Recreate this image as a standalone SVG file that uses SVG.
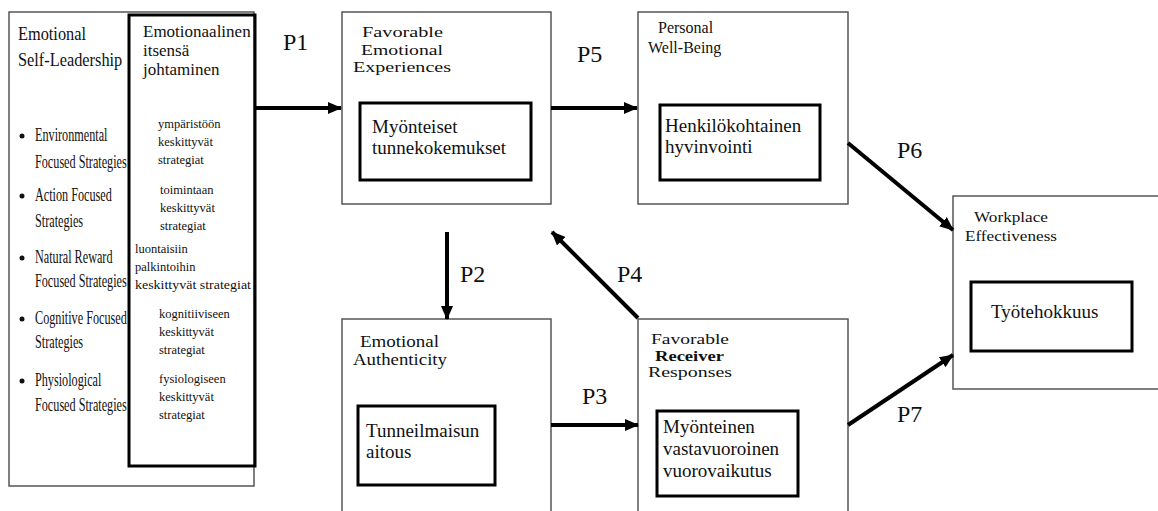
<svg xmlns="http://www.w3.org/2000/svg" width="1158" height="511" viewBox="0 0 1158 511">
<style>
.outer{fill:#fff;stroke:#555;stroke-width:1.5}
.inner{fill:#fff;stroke:#000;stroke-width:3}
.t{font-family:"Liberation Serif","Times New Roman",serif;fill:#111}
.big{font-size:19px}
.head{font-size:19px}
.bul{font-size:18px}
.sm{font-size:12.5px}
.cap{font-size:16px}
.sp{font-size:14.5px}
.p{font-size:24px}
.arr{stroke:#000;stroke-width:4;fill:none;marker-end:url(#ah)}
</style>
<defs>
<marker id="ah" markerUnits="userSpaceOnUse" markerWidth="14" markerHeight="12" refX="13" refY="6" orient="auto">
<path d="M0,0 L14,6 L0,12 z" fill="#000"/>
</marker>
</defs>
<rect width="1158" height="511" fill="#fff"/>

<g id="esl">
<rect class="outer" x="9" y="12" width="245" height="474"/>
<g transform="translate(18,0) scale(0.86,1)">
<text class="t head" x="0" y="40">Emotional</text>
<text class="t head" x="0" y="66">Self-Leadership</text>
</g>
<g fill="#111">
<circle cx="22" cy="136" r="2.5"/><circle cx="22" cy="196" r="2.5"/><circle cx="22" cy="258" r="2.5"/><circle cx="22" cy="319" r="2.5"/><circle cx="22" cy="381" r="2.5"/>
</g>
<g transform="translate(35,0) scale(0.678,1)">
<text class="t bul" x="0" y="141">Environmental</text>
<text class="t bul" x="0" y="168">Focused Strategies</text>
<text class="t bul" x="0" y="201">Action Focused</text>
<text class="t bul" x="0" y="227">Strategies</text>
<text class="t bul" x="0" y="263">Natural Reward</text>
<text class="t bul" x="0" y="287">Focused Strategies</text>
<text class="t bul" x="0" y="324">Cognitive Focused</text>
<text class="t bul" x="0" y="348">Strategies</text>
<text class="t bul" x="0" y="386">Physiological</text>
<text class="t bul" x="0" y="411">Focused Strategies</text>
</g>
</g>

<g id="esl-fi">
<rect class="inner" x="129" y="15" width="126" height="451" style="fill:none"/>
<text class="t" font-size="17" x="143" y="37">Emotionaalinen</text>
<text class="t" font-size="17" x="143" y="56">itsensä</text>
<text class="t" font-size="17" x="143" y="75">johtaminen</text>
<text class="t sm" x="158" y="128">ympäristöön</text>
<text class="t sm" x="158" y="146">keskittyvät</text>
<text class="t sm" x="158" y="164">strategiat</text>
<text class="t sm" x="160" y="194">toimintaan</text>
<text class="t sm" x="160" y="212">keskittyvät</text>
<text class="t sm" x="160" y="230">strategiat</text>
<text class="t sm" x="135" y="253">luontaisiin</text>
<text class="t sm" x="135" y="271">palkintoihin</text>
<text class="t sm" x="135" y="289" textLength="116" lengthAdjust="spacingAndGlyphs">keskittyvät strategiat</text>
<text class="t sm" x="159" y="318">kognitiiviseen</text>
<text class="t sm" x="159" y="336">keskittyvät</text>
<text class="t sm" x="159" y="354">strategiat</text>
<text class="t sm" x="159" y="383">fysiologiseen</text>
<text class="t sm" x="159" y="401">keskittyvät</text>
<text class="t sm" x="159" y="419">strategiat</text>
</g>

<g id="fee">
<rect class="outer" x="342" y="12" width="209" height="192"/>
<text class="t sp" x="362" y="37" textLength="81" lengthAdjust="spacingAndGlyphs">Favorable</text>
<text class="t sp" x="361" y="55" textLength="82" lengthAdjust="spacingAndGlyphs">Emotional</text>
<text class="t sp" x="353" y="72" textLength="98" lengthAdjust="spacingAndGlyphs">Experiences</text>
<rect class="inner" x="360" y="103" width="171" height="77"/>
<text class="t big" x="372" y="133">Myönteiset</text>
<text class="t big" x="372" y="154">tunnekokemukset</text>
</g>

<g id="pwb">
<rect class="outer" x="638" y="12" width="210" height="192"/>
<text class="t cap" x="658" y="33">Personal</text>
<text class="t cap" x="648" y="53">Well-Being</text>
<rect class="inner" x="660" y="105" width="160" height="75"/>
<text class="t big" x="665" y="132">Henkilökohtainen</text>
<text class="t big" x="665" y="153">hyvinvointi</text>
</g>

<g id="ea">
<rect class="outer" x="342" y="319" width="209" height="200"/>
<text class="t cap" x="360" y="347" textLength="79" lengthAdjust="spacingAndGlyphs">Emotional</text>
<text class="t cap" x="353" y="365" textLength="94" lengthAdjust="spacingAndGlyphs">Authenticity</text>
<rect class="inner" x="358" y="406" width="137" height="79"/>
<text class="t big" x="366" y="437">Tunneilmaisun</text>
<text class="t big" x="366" y="458">aitous</text>
</g>

<g id="frr">
<rect class="outer" x="638" y="319" width="210" height="200"/>
<text class="t sp" x="651" y="344" textLength="78" lengthAdjust="spacingAndGlyphs">Favorable</text>
<text class="t sp" x="655" y="361" textLength="69" lengthAdjust="spacingAndGlyphs" font-weight="bold">Receiver</text>
<text class="t sp" x="648" y="377" textLength="84" lengthAdjust="spacingAndGlyphs">Responses</text>
<rect class="inner" x="657" y="411" width="141" height="85"/>
<text class="t big" x="663" y="433">Myönteinen</text>
<text class="t big" x="663" y="455">vastavuoroinen</text>
<text class="t big" x="663" y="477">vuorovaikutus</text>
</g>

<g id="we">
<rect class="outer" x="953" y="196" width="215" height="193"/>
<text class="t sp" x="974" y="222" textLength="74" lengthAdjust="spacingAndGlyphs">Workplace</text>
<text class="t sp" x="965" y="241" textLength="92" lengthAdjust="spacingAndGlyphs">Effectiveness</text>
<rect class="inner" x="971" y="282" width="161" height="69"/>
<text class="t big" x="991" y="318">Työtehokkuus</text>
</g>

<g id="connectors">
<line class="arr" x1="255" y1="108" x2="341" y2="108"/>
<line class="arr" x1="551" y1="108" x2="637" y2="108"/>
<line class="arr" x1="447" y1="232" x2="447" y2="319"/>
<line class="arr" x1="638" y1="318" x2="552" y2="232"/>
<line class="arr" x1="551" y1="425" x2="638" y2="425"/>
<line class="arr" x1="848" y1="143" x2="953" y2="230"/>
<line class="arr" x1="848" y1="425" x2="953" y2="355"/>
<text class="t p" x="283" y="50">P1</text>
<text class="t p" x="577" y="62">P5</text>
<text class="t p" x="460" y="282">P2</text>
<text class="t p" x="617" y="282">P4</text>
<text class="t p" x="582" y="404">P3</text>
<text class="t p" x="897" y="158">P6</text>
<text class="t p" x="897" y="422">P7</text>
</g>
</svg>
